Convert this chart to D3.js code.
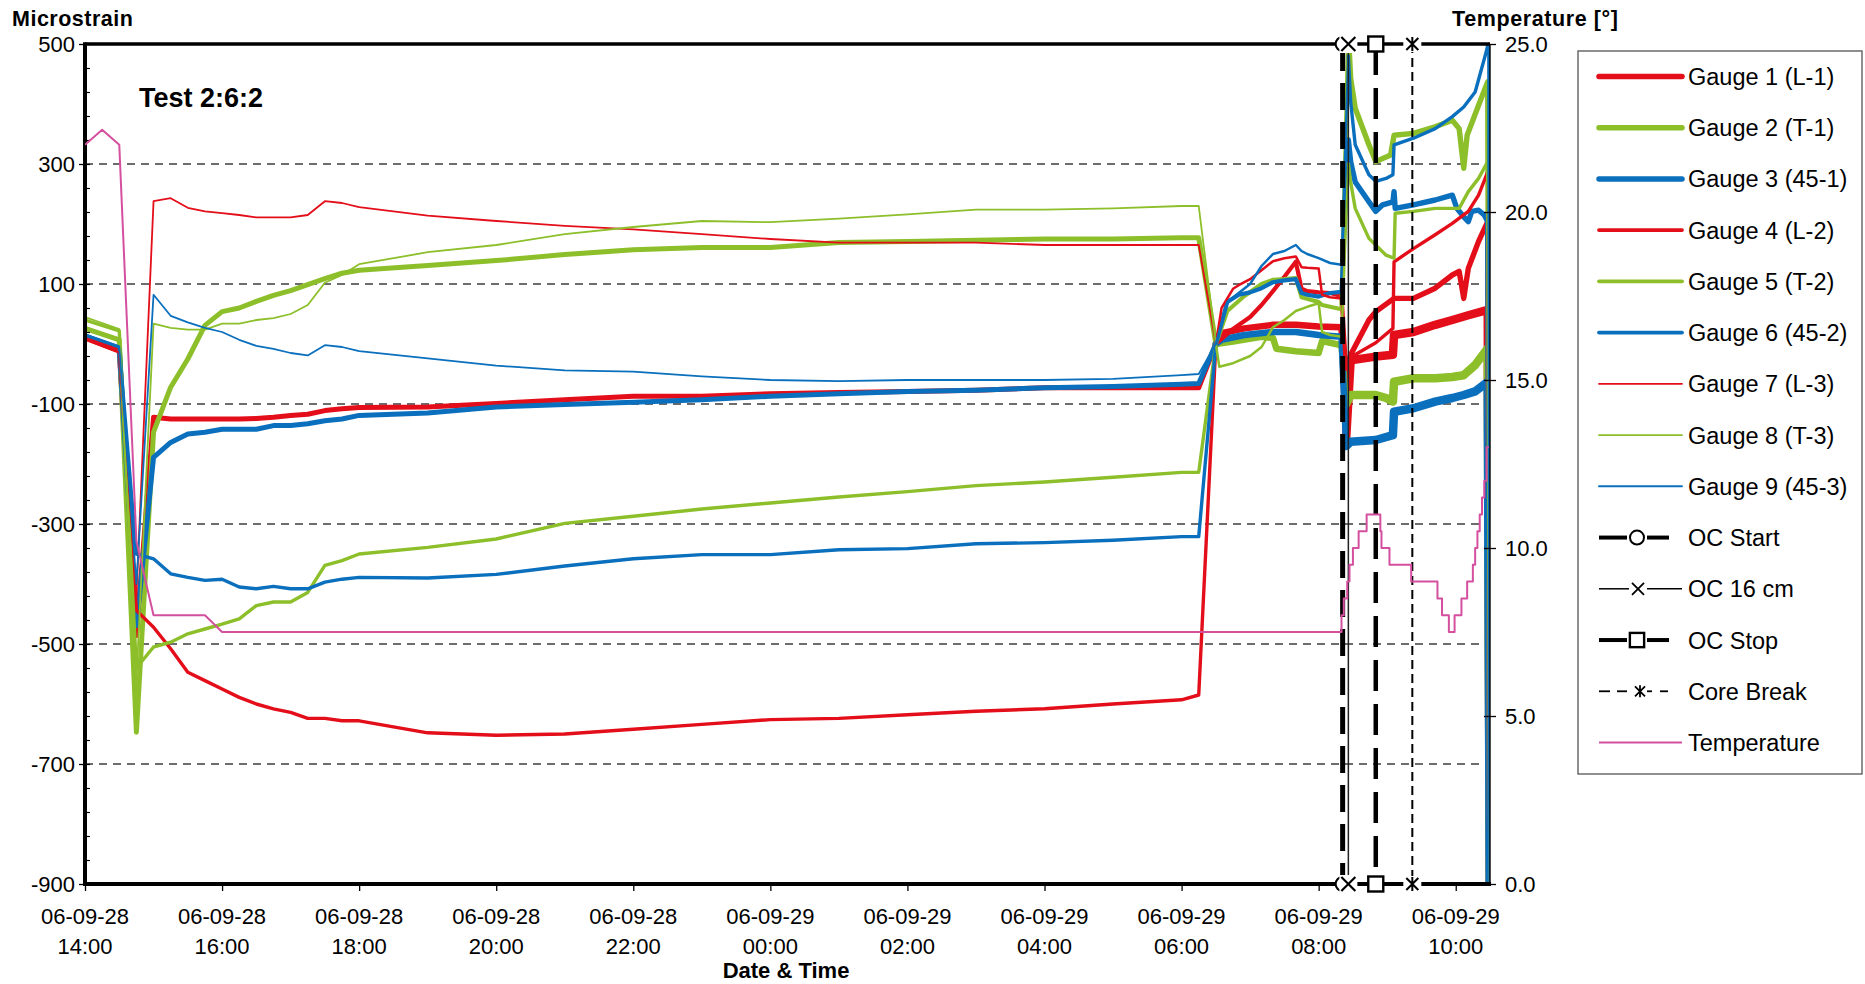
<!DOCTYPE html>
<html>
<head>
<meta charset="utf-8">
<script src="https://cdn.jsdelivr.net/npm/d3@7"></script>
<style>
  html, body { margin: 0; padding: 0; background: #fff; }
  svg { display: block; font-family: "Liberation Sans", Arial, sans-serif; }
</style>
</head>
<body>
<svg id="chart" width="1865" height="984"></svg>
<script>
// ---------- data ----------
// Quarter-hour / hourly readings before the gauges were re-zeroed
const slowTimes = [
  "06-09-28 14:00", "06-09-28 14:30", "06-09-28 14:45", "06-09-28 15:00", "06-09-28 15:15",
  "06-09-28 15:30", "06-09-28 15:45", "06-09-28 16:00", "06-09-28 16:15", "06-09-28 16:30",
  "06-09-28 16:45", "06-09-28 17:00", "06-09-28 17:15", "06-09-28 17:30", "06-09-28 17:45",
  "06-09-28 18:00", "06-09-28 19:00", "06-09-28 20:00", "06-09-28 21:00", "06-09-28 22:00",
  "06-09-28 23:00", "06-09-29 00:00", "06-09-29 01:00", "06-09-29 02:00", "06-09-29 03:00",
  "06-09-29 04:00", "06-09-29 05:00", "06-09-29 06:00", "06-09-29 06:15"
];

const gauge1Slow = [10, -12, -486, -122, -125, -125, -125, -125, -125, -124, -122, -119, -117, -111, -108, -106, -105, -99, -93, -87, -87, -83, -81, -79, -77, -73, -73, -73, -73];
const gauge2Slow = [26, 7, -647, -147, -72, -25, 31, 54, 60, 71, 81, 89, 99, 109, 118, 123, 131, 139, 149, 157, 161, 161, 169, 171, 173, 175, 175, 177, 177];
const gauge3Slow = [13, -8, -469, -189, -164, -150, -147, -142, -142, -142, -136, -136, -133, -128, -125, -119, -115, -105, -101, -97, -93, -87, -83, -79, -77, -73, -71, -67, -66];
const gauge4Slow = [12, -10, -444, -472, -508, -547, -561, -575, -589, -600, -608, -614, -624, -624, -628, -628, -648, -652, -650, -642, -634, -626, -624, -618, -612, -608, -600, -593, -585];
const gauge5Slow = [40, 22, -540, -505, -497, -483, -475, -467, -458, -436, -430, -430, -414, -369, -361, -350, -339, -325, -299, -287, -275, -265, -255, -246, -236, -230, -222, -214, -214];
const gauge6Slow = [15, -5, -350, -358, -383, -389, -394, -392, -405, -408, -404, -408, -408, -397, -392, -389, -390, -384, -370, -358, -351, -351, -343, -341, -333, -331, -327, -321, -321];
const gauge7Slow = [8, -14, -420, 238, 243, 227, 221, 218, 215, 211, 211, 211, 215, 238, 235, 228, 214, 205, 197, 191, 183, 175, 169, 169, 169, 165, 165, 165, 165];
const gauge8Slow = [45, 25, -560, 34, 27, 24, 24, 34, 34, 40, 43, 50, 65, 102, 115, 133, 153, 165, 183, 195, 205, 203, 209, 216, 224, 224, 226, 230, 230];
const gauge9Slow = [16, -4, -400, 82, 47, 36, 27, 20, 7, -3, -8, -15, -19, -2, -5, -12, -24, -36, -44, -46, -54, -60, -62, -60, -60, -60, -58, -52, -50];

// Fast-logged readings on 06-09-29 after re-zeroing (time, microstrain)
const gauge1Late = [["06:30",0],["06:35",18],["06:55",26],["07:20",32],["07:40",32],["08:00",29],["08:20",28],["08:24",-160],["08:28",-27],["08:50",-21],["09:05",-18],["09:06",15],["09:23",20],["09:42",32],["09:57",40],["10:11",48],["10:28",57],["10:30",-1000]];
const gauge2Late = [["06:30",0],["06:45",4],["07:10",12],["07:20",10],["07:23",-8],["07:40",-12],["08:00",-15],["08:03",5],["08:20",-2],["08:24",-100],["08:28",-85],["08:50",-85],["08:59",-90],["09:05",-96],["09:06",-63],["09:23",-57],["09:42",-57],["09:57",-55],["10:07",-52],["10:17",-35],["10:28",-7],["10:30",-1000]];
const gauge3Late = [["06:30",0],["06:35",7],["06:55",15],["07:20",20],["07:40",20],["08:00",15],["08:20",12],["08:24",-170],["08:28",-163],["08:50",-160],["09:05",-152],["09:06",-113],["09:23",-107],["09:42",-96],["09:57",-90],["10:07",-85],["10:17",-79],["10:28",-63],["10:30",-1000]];
const gauge4Late = [["06:30",0],["06:45",25],["07:00",45],["07:10",65],["07:20",88],["07:30",112],["07:40",137],["07:45",92],["07:50",88],["08:00",86],["08:10",85],["08:20",80],["08:24",-40],["08:28",-18],["08:44",40],["08:50",54],["09:06",76],["09:23",76],["09:42",93],["09:57",115],["10:03",121],["10:07",76],["10:11",126],["10:20",171],["10:28",204],["10:30",-1000]];
const gauge5Late = [["06:30",0],["06:40",55],["06:55",80],["07:10",100],["07:20",107],["07:30",108],["07:40",110],["07:45",78],["08:00",70],["08:03",65],["08:10",62],["08:20",58],["08:26",520],["08:28",443],["08:32",393],["08:44",332],["08:50",304],["09:03",315],["09:06",348],["09:23",351],["09:42",362],["09:57",373],["10:03",359],["10:07",293],["10:10",348],["10:20",398],["10:28",437],["10:30",-1000]];
const gauge6Late = [["06:30",0],["06:40",70],["06:50",82],["07:00",86],["07:10",93],["07:20",103],["07:30",106],["07:40",108],["07:45",85],["07:50",82],["08:00",79],["08:10",85],["08:20",87],["08:26",340],["08:28",304],["08:32",270],["08:44",237],["08:50",221],["08:56",232],["09:05",237],["09:06",254],["09:07",226],["09:23",232],["09:42",240],["09:57",248],["10:01",226],["10:07",212],["10:11",204],["10:14",221],["10:20",223],["10:25",215],["10:28",204],["10:30",-1000]];
const gauge7Late = [["06:30",0],["06:35",60],["06:45",92],["06:50",98],["07:00",108],["07:10",123],["07:20",138],["07:30",143],["07:40",146],["07:45",128],["07:50",127],["08:00",126],["08:03",82],["08:10",78],["08:20",76],["08:24",-30],["08:28",-22],["08:50",2],["09:05",26],["09:06",137],["09:23",159],["09:42",182],["09:57",201],["10:11",221],["10:20",248],["10:28",287],["10:30",-1000]];
const gauge8Late = [["06:30",0],["06:33",-38],["06:45",-32],["07:00",-20],["07:10",-5],["07:20",28],["07:30",40],["07:40",55],["07:50",62],["08:00",68],["08:03",20],["08:10",15],["08:20",12],["08:26",300],["08:28",270],["08:32",226],["08:44",176],["08:59",148],["09:06",143],["09:07",218],["09:23",221],["09:42",226],["10:03",226],["10:11",254],["10:20",276],["10:28",304],["10:30",-1000]];
const gauge9Late = [["06:30",0],["06:40",70],["06:50",85],["07:00",100],["07:10",130],["07:20",150],["07:30",155],["07:40",165],["07:45",155],["07:50",150],["08:00",143],["08:10",135],["08:20",132],["08:26",480],["08:28",404],["08:32",332],["08:44",282],["08:50",271],["08:59",276],["09:05",282],["09:06",332],["09:23",343],["09:42",359],["09:57",379],["10:07",395],["10:17",420],["10:26",482],["10:29",505],["10:30",-1000]];

// Core temperature [°] (time, value)
const temperatureReadings = [
  ["06-09-28 14:00",22.0],["06-09-28 14:15",22.45],["06-09-28 14:30",22.0],["06-09-28 14:45",10.2],
  ["06-09-28 15:00",8.0],["06-09-28 15:45",8.0],["06-09-28 16:00",7.5],["06-09-29 08:20",7.5],
  ["06-09-29 08:20",8.0],["06-09-29 08:22",8.0],["06-09-29 08:22",8.5],["06-09-29 08:25",8.5],
  ["06-09-29 08:25",9.0],["06-09-29 08:27",9.0],["06-09-29 08:27",9.5],["06-09-29 08:30",9.5],
  ["06-09-29 08:30",10.0],["06-09-29 08:35",10.0],["06-09-29 08:35",10.5],["06-09-29 08:42",10.5],
  ["06-09-29 08:42",11.0],["06-09-29 08:54",11.0],["06-09-29 08:54",10.5],["06-09-29 08:55",10.5],
  ["06-09-29 08:55",10.0],["06-09-29 09:02",10.0],["06-09-29 09:02",9.5],["06-09-29 09:21",9.5],
  ["06-09-29 09:21",9.0],["06-09-29 09:44",9.0],["06-09-29 09:44",8.5],["06-09-29 09:48",8.5],
  ["06-09-29 09:48",8.0],["06-09-29 09:54",8.0],["06-09-29 09:54",7.5],["06-09-29 09:59",7.5],
  ["06-09-29 09:59",8.0],["06-09-29 10:05",8.0],["06-09-29 10:05",8.5],["06-09-29 10:10",8.5],
  ["06-09-29 10:10",9.0],["06-09-29 10:15",9.0],["06-09-29 10:15",9.5],["06-09-29 10:17",9.5],
  ["06-09-29 10:17",10.0],["06-09-29 10:19",10.0],["06-09-29 10:19",10.5],["06-09-29 10:21",10.5],
  ["06-09-29 10:21",11.0],["06-09-29 10:23",11.0],["06-09-29 10:23",11.5],["06-09-29 10:25",11.5],
  ["06-09-29 10:25",12.0],["06-09-29 10:27",12.0],["06-09-29 10:27",13.0],["06-09-29 10:29",13.0]
];

// Overcoring events
const eventNames = ["OC Start", "OC 16 cm", "OC Stop", "Core Break"];
const eventTimes = ["06-09-29 08:21", "06-09-29 08:26", "06-09-29 08:50", "06-09-29 09:22"];

// Axis ticks
const strainTicks = [500, 300, 100, -100, -300, -500, -700, -900];
const strainGrid = [300, 100, -100, -300, -500, -700];
const temperatureTicks = [0, 5, 10, 15, 20, 25];
const timeTicks = ["06-09-28 14:00", "06-09-28 16:00", "06-09-28 18:00", "06-09-28 20:00", "06-09-28 22:00",
                   "06-09-29 00:00", "06-09-29 02:00", "06-09-29 04:00", "06-09-29 06:00", "06-09-29 08:00", "06-09-29 10:00"];
const timeDomain = ["06-09-28 14:00", "06-09-29 10:30"];

// ---------- styles ----------
const RED = "#e30e19", GREEN = "#8cbf2a", BLUE = "#0a6fbd", PINK = "#d4509f";
// stroke widths: hourly trace, fast-logged trace before overcoring, fast-logged trace during/after overcoring, legend key
const weights = {
  thick:  { slow: 5.0, dense: 6.5, drill: 8.5, key: 5.5 },
  medium: { slow: 3.4, dense: 4.2, drill: 5.4, key: 3.8 },
  thin:   { slow: 1.8, dense: 2.5, drill: 3.4, key: 1.9 }
};
const drillFrom = "08:24";
const gauges = [
  { name: "Gauge 1 (L-1)",  slow: gauge1Slow, late: gauge1Late, color: RED,   weight: "thick" },
  { name: "Gauge 2 (T-1)",  slow: gauge2Slow, late: gauge2Late, color: GREEN, weight: "thick" },
  { name: "Gauge 3 (45-1)", slow: gauge3Slow, late: gauge3Late, color: BLUE,  weight: "thick" },
  { name: "Gauge 4 (L-2)",  slow: gauge4Slow, late: gauge4Late, color: RED,   weight: "medium" },
  { name: "Gauge 5 (T-2)",  slow: gauge5Slow, late: gauge5Late, color: GREEN, weight: "medium" },
  { name: "Gauge 6 (45-2)", slow: gauge6Slow, late: gauge6Late, color: BLUE,  weight: "medium" },
  { name: "Gauge 7 (L-3)",  slow: gauge7Slow, late: gauge7Late, color: RED,   weight: "thin" },
  { name: "Gauge 8 (T-3)",  slow: gauge8Slow, late: gauge8Late, color: GREEN, weight: "thin" },
  { name: "Gauge 9 (45-3)", slow: gauge9Slow, late: gauge9Late, color: BLUE,  weight: "thin" }
];
const eventStyles = [
  { width: 5,   dash: "27,12", color: "#000", marker: "circle" },
  { width: 1.5, dash: null,    color: "#222", marker: "cross" },
  { width: 4.5, dash: "31,13", color: "#000", marker: "square" },
  { width: 2,   dash: "9,5",   color: "#000", marker: "star" }
];

// ---------- layout ----------
const parse = d3.timeParse("%y-%m-%d %H:%M");
const lateDay = "06-09-29 ";
const L = 85, R = 1490, T = 44, B = 884;
const FONT = "'Liberation Sans', Arial, sans-serif";
const TICK_FONT = 22;

const svg = d3.select("#chart");
const x = d3.scaleTime().domain(timeDomain.map(parse)).range([L, R]);
const y = d3.scaleLinear().domain([-900, 500]).range([B, T]);
const yT = d3.scaleLinear().domain([0, 25]).range([B, T]);

svg.append("defs").append("clipPath").attr("id", "plotClip")
  .append("rect").attr("x", L).attr("y", T).attr("width", R - L).attr("height", B - T);

// dashed horizontal gridlines
svg.append("g").selectAll("line").data(strainGrid).join("line")
  .attr("x1", L).attr("x2", R)
  .attr("y1", d => y(d)).attr("y2", d => y(d))
  .attr("stroke", "#3c3c3c").attr("stroke-width", 1.3).attr("stroke-dasharray", "8,6");

// ---------- gauge lines ----------
const line = d3.line().x(d => x(d[0])).y(d => y(d[1]));
const dataLayer = svg.append("g").attr("clip-path", "url(#plotClip)");
function trace(pts, color, width) {
  dataLayer.append("path").attr("d", line(pts))
    .attr("fill", "none").attr("stroke", color).attr("stroke-width", width)
    .attr("stroke-linejoin", "round").attr("stroke-linecap", "round");
}
const drillTime = parse(lateDay + drillFrom);
gauges.forEach(g => {
  const latePts = g.late.map(([t, v]) => [parse(lateDay + t), v]);
  const slowPts = slowTimes.map((t, i) => [parse(t), g.slow[i]]);
  slowPts.push(latePts[0]);
  const cut = latePts.findIndex(p => p[0] >= drillTime);
  const w = weights[g.weight];
  trace(slowPts, g.color, w.slow);
  trace(latePts.slice(0, cut + 1), g.color, w.dense);
  trace(latePts.slice(cut), g.color, w.drill);
});

// ---------- axes frame ----------
// left (strain) axis
const gy = svg.append("g").attr("transform", `translate(${L},0)`)
  .call(d3.axisLeft(y).tickValues(strainTicks).tickSize(6).tickPadding(4).tickFormat(d => String(d)));
gy.select(".domain").remove();
gy.selectAll(".tick line").attr("stroke", "#000").attr("stroke-width", 1.3);
gy.selectAll(".tick text").attr("font-size", TICK_FONT).attr("font-family", FONT).attr("fill", "#000");

const gyMinor = svg.append("g").attr("transform", `translate(${L},0)`)
  .call(d3.axisRight(y).tickValues(d3.range(-900, 501, 40)).tickSize(5).tickFormat(""));
gyMinor.select(".domain").remove();
gyMinor.selectAll(".tick line").attr("stroke", "#000").attr("stroke-width", 1.2);

// right (temperature) axis
const gt = svg.append("g").attr("transform", `translate(${R},0)`)
  .call(d3.axisRight(yT).tickValues(temperatureTicks).tickSize(6).tickPadding(9).tickFormat(d3.format(".1f")));
gt.select(".domain").remove();
gt.selectAll(".tick line").attr("x1", -6).attr("stroke", "#000").attr("stroke-width", 1.3);
gt.selectAll(".tick text").attr("font-size", TICK_FONT).attr("font-family", FONT).attr("fill", "#000");

// bottom (time) axis
const gx = svg.append("g").attr("transform", `translate(0,${B})`)
  .call(d3.axisBottom(x).tickValues(timeTicks.map(parse)).tickSize(7).tickFormat(""));
gx.select(".domain").remove();
gx.selectAll(".tick line").attr("stroke", "#000").attr("stroke-width", 1.3);
const fmtDate = d3.timeFormat("%y-%m-%d"), fmtHour = d3.timeFormat("%H:%M");
svg.append("g").selectAll("text").data(timeTicks.map(parse)).join("text")
  .attr("x", d => x(d)).attr("text-anchor", "middle")
  .attr("font-size", TICK_FONT).attr("font-family", FONT)
  .each(function (d) {
    const t = d3.select(this);
    t.append("tspan").attr("x", x(d)).attr("y", 924).text(fmtDate(d));
    t.append("tspan").attr("x", x(d)).attr("y", 954).text(fmtHour(d));
  });

// plot frame lines
svg.append("line").attr("x1", R).attr("x2", R).attr("y1", T).attr("y2", B).attr("stroke", "#000").attr("stroke-width", 1.4);
svg.append("line").attr("x1", L).attr("x2", R).attr("y1", T).attr("y2", T).attr("stroke", "#000").attr("stroke-width", 3.4);
svg.append("line").attr("x1", L).attr("x2", R + 1).attr("y1", B).attr("y2", B).attr("stroke", "#000").attr("stroke-width", 4);
svg.append("line").attr("x1", L).attr("x2", L).attr("y1", T - 1.7).attr("y2", B + 2).attr("stroke", "#000").attr("stroke-width", 4);

// ---------- event lines ----------
function drawMarker(g, kind, cx, cy, s) {
  if (kind === "circle") {
    g.append("circle").attr("cx", cx).attr("cy", cy).attr("r", 7 * s)
      .attr("fill", "#fff").attr("stroke", "#000").attr("stroke-width", 2);
  } else if (kind === "cross") {
    g.append("rect").attr("x", cx - 9 * s).attr("y", cy - 9 * s).attr("width", 18 * s).attr("height", 18 * s).attr("fill", "#fff");
    const h = 7 * s;
    g.append("path").attr("d", `M${cx - h},${cy - h}L${cx + h},${cy + h}M${cx - h},${cy + h}L${cx + h},${cy - h}`)
      .attr("stroke", "#000").attr("stroke-width", 2.2).attr("fill", "none");
  } else if (kind === "square") {
    g.append("rect").attr("x", cx - 7.5 * s).attr("y", cy - 7.5 * s).attr("width", 15 * s).attr("height", 15 * s)
      .attr("fill", "#fff").attr("stroke", "#000").attr("stroke-width", 2.4);
  } else if (kind === "star") {
    g.append("rect").attr("x", cx - 9 * s).attr("y", cy - 8 * s).attr("width", 18 * s).attr("height", 16 * s).attr("fill", "#fff");
    const h = 6 * s;
    g.append("path").attr("d", `M${cx - h},${cy - h}L${cx + h},${cy + h}M${cx - h},${cy + h}L${cx + h},${cy - h}M${cx},${cy - h * 1.15}L${cx},${cy + h * 1.15}`)
      .attr("stroke", "#000").attr("stroke-width", 2).attr("fill", "none");
  }
}

const eventLayer = svg.append("g");
eventTimes.forEach((t, i) => {
  const st = eventStyles[i];
  const ex = x(parse(t));
  const ln = eventLayer.append("line").attr("x1", ex).attr("x2", ex).attr("y1", y(500)).attr("y2", y(-900))
    .attr("stroke", st.color).attr("stroke-width", st.width);
  if (st.dash) ln.attr("stroke-dasharray", st.dash);
});
eventTimes.forEach((t, i) => {
  const ex = x(parse(t));
  drawMarker(eventLayer, eventStyles[i].marker, ex, y(500), 1);
  drawMarker(eventLayer, eventStyles[i].marker, ex, y(-900), 1);
});

// ---------- temperature ----------
const tLine = d3.line().x(d => x(parse(d[0]))).y(d => yT(d[1]));
svg.append("g").attr("clip-path", "url(#plotClip)").append("path")
  .attr("d", tLine(temperatureReadings))
  .attr("fill", "none").attr("stroke", PINK).attr("stroke-width", 2).attr("stroke-linejoin", "round");

// ---------- titles ----------
svg.append("text").attr("x", 12).attr("y", 26).attr("font-size", 21.5).attr("font-weight", "bold")
  .attr("font-family", FONT).attr("letter-spacing", 0.5).text("Microstrain");
svg.append("text").attr("x", 1452).attr("y", 26).attr("font-size", 21.5).attr("font-weight", "bold")
  .attr("font-family", FONT).attr("letter-spacing", 0.6).text("Temperature [°]");
svg.append("text").attr("x", 786).attr("y", 978).attr("text-anchor", "middle").attr("font-size", 22)
  .attr("font-weight", "bold").attr("font-family", FONT).text("Date & Time");
svg.append("text").attr("x", 139).attr("y", 107).attr("font-size", 27).attr("font-weight", "bold")
  .attr("font-family", FONT).text("Test 2:6:2");

// ---------- legend ----------
const lg = svg.append("g");
lg.append("rect").attr("x", 1578).attr("y", 51).attr("width", 284).attr("height", 723)
  .attr("fill", "#fff").attr("stroke", "#555").attr("stroke-width", 1.3);
const rowY = i => 76.4 + i * 51.24;
const keyX0 = 1599, keyX1 = 1682, textX = 1688;
gauges.forEach((g, i) => {
  lg.append("line").attr("x1", keyX0).attr("x2", keyX1).attr("y1", rowY(i)).attr("y2", rowY(i))
    .attr("stroke", g.color).attr("stroke-width", weights[g.weight].key).attr("stroke-linecap", "round");
});
function seg(x1, x2, yy, w, c) {
  lg.append("line").attr("x1", x1).attr("x2", x2).attr("y1", yy).attr("y2", yy)
    .attr("stroke", c || "#000").attr("stroke-width", w);
}
// OC Start
let ry = rowY(9);
seg(1599, 1627, ry, 4); seg(1647, 1669, ry, 4); drawMarker(lg, "circle", 1637, ry, 1);
// OC 16 cm
ry = rowY(10);
seg(1599, 1629, ry, 1.5); seg(1647, 1682, ry, 1.5);
lg.append("path").attr("d", `M${1632},${ry - 6}L${1644},${ry + 6}M${1632},${ry + 6}L${1644},${ry - 6}`)
  .attr("stroke", "#000").attr("stroke-width", 1.8);
// OC Stop
ry = rowY(11);
seg(1599, 1627, ry, 4); seg(1647, 1669, ry, 4); drawMarker(lg, "square", 1637, ry, 0.95);
// Core Break
ry = rowY(12);
seg(1599, 1610, ry, 1.8); seg(1617, 1627, ry, 1.8); seg(1647, 1652, ry, 1.8); seg(1660, 1668, ry, 1.8);
lg.append("path").attr("d", `M${1635},${ry - 5}L${1645},${ry + 5}M${1635},${ry + 5}L${1645},${ry - 5}M${1640},${ry - 6}L${1640},${ry + 6}`)
  .attr("stroke", "#000").attr("stroke-width", 1.8);
// Temperature
seg(keyX0, keyX1, rowY(13), 2, PINK);

const legendNames = gauges.map(g => g.name).concat(eventNames, ["Temperature"]);
lg.selectAll("text.key").data(legendNames).join("text").attr("class", "key")
  .attr("x", textX).attr("y", (d, i) => rowY(i)).attr("dy", "0.36em")
  .attr("font-size", 23.5).attr("font-family", FONT).attr("fill", "#000").text(d => d);
</script>
</body>
</html>
